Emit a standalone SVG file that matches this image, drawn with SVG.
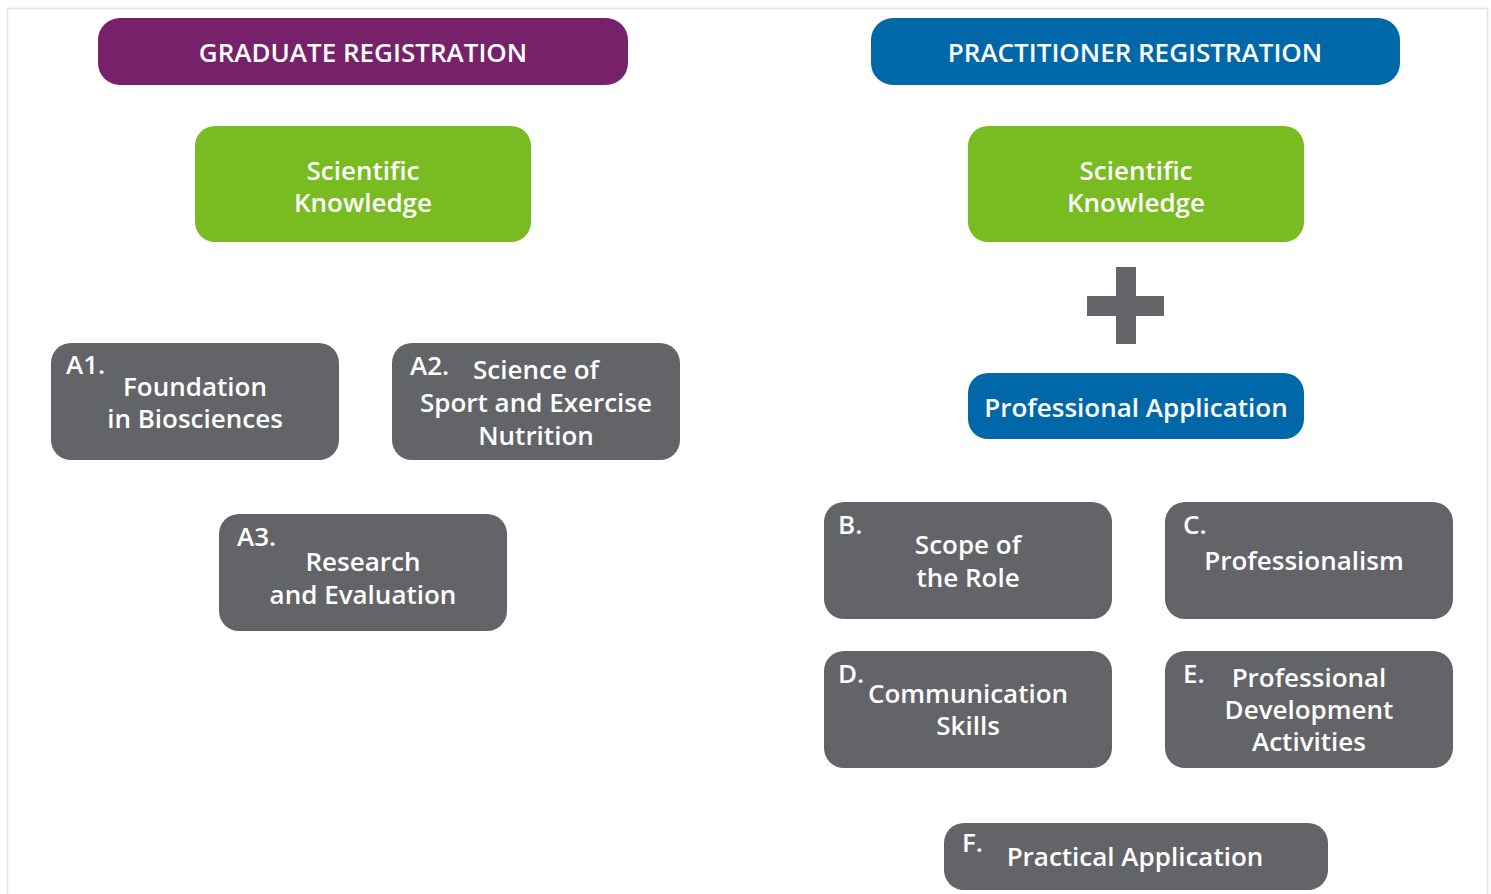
<svg xmlns="http://www.w3.org/2000/svg" width="1491" height="894" viewBox="0 0 1491 894">
<style>
text{font-family:"Open Sans","Noto Sans","Liberation Sans",sans-serif;font-weight:600;fill:#ffffff;font-size:26px}
.c{text-anchor:middle}
.h{font-size:26px}
.gray{fill:#636467}
.green{fill:#78BC21}
.blue{fill:#0068A9}
.purple{fill:#77216B}
</style>
<rect x="0" y="0" width="1491" height="894" fill="#ffffff"/>
<rect x="7.5" y="8.5" width="1480" height="900" fill="none" stroke="#e3e3e3" stroke-width="1.5"/>
<g id="graduate-registration"><rect class="purple" x="98" y="18" width="530" height="67" rx="22"/><text class="c h" x="363" y="62">GRADUATE REGISTRATION</text></g>
<g id="practitioner-registration"><rect class="blue" x="871" y="18" width="529" height="67" rx="22"/><text class="c h" x="1135" y="62">PRACTITIONER REGISTRATION</text></g>
<g id="sci-knowledge-left"><rect class="green" x="195" y="126" width="336" height="116" rx="20"/><text class="c" x="363" y="180">Scientific</text><text class="c" x="363" y="212">Knowledge</text></g>
<g id="sci-knowledge-right"><rect class="green" x="968" y="126" width="336" height="116" rx="20"/><text class="c" x="1136" y="180">Scientific</text><text class="c" x="1136" y="212">Knowledge</text></g>
<g id="plus"><rect x="1116" y="267" width="20" height="77" fill="#646569"/><rect x="1087" y="296" width="77" height="20" fill="#646569"/></g>
<g id="professional-application"><rect class="blue" x="968" y="373" width="336" height="66" rx="20"/><text class="c" x="1136" y="417">Professional Application</text></g>
<g id="a1"><rect class="gray" x="51" y="343" width="288" height="117" rx="20"/><text x="66" y="374">A1.</text><text class="c" x="195" y="396">Foundation</text><text class="c" x="195" y="428">in Biosciences</text></g>
<g id="a2"><rect class="gray" x="392" y="343" width="288" height="117" rx="20"/><text x="410" y="375">A2.</text><text class="c" x="536" y="379">Science of</text><text class="c" x="536" y="412">Sport and Exercise</text><text class="c" x="536" y="445">Nutrition</text></g>
<g id="a3"><rect class="gray" x="219" y="514" width="288" height="117" rx="20"/><text x="237" y="546">A3.</text><text class="c" x="363" y="571">Research</text><text class="c" x="363" y="604">and Evaluation</text></g>
<g id="b"><rect class="gray" x="824" y="502" width="288" height="117" rx="20"/><text x="838" y="534">B.</text><text class="c" x="968" y="554">Scope of</text><text class="c" x="968" y="587">the Role</text></g>
<g id="c"><rect class="gray" x="1165" y="502" width="288" height="117" rx="20"/><text x="1183" y="534">C.</text><text class="c" x="1304" y="570">Professionalism</text></g>
<g id="d"><rect class="gray" x="824" y="651" width="288" height="117" rx="20"/><text x="838" y="683">D.</text><text class="c" x="968" y="703">Communication</text><text class="c" x="968" y="735">Skills</text></g>
<g id="e"><rect class="gray" x="1165" y="651" width="288" height="117" rx="20"/><text x="1183" y="683">E.</text><text class="c" x="1309" y="687">Professional</text><text class="c" x="1309" y="719">Development</text><text class="c" x="1309" y="751">Activities</text></g>
<g id="f"><rect class="gray" x="944" y="823" width="384" height="67" rx="20"/><text x="962" y="852">F.</text><text class="c" x="1135" y="866">Practical Application</text></g>
<g id="connectors"></g>
</svg>
